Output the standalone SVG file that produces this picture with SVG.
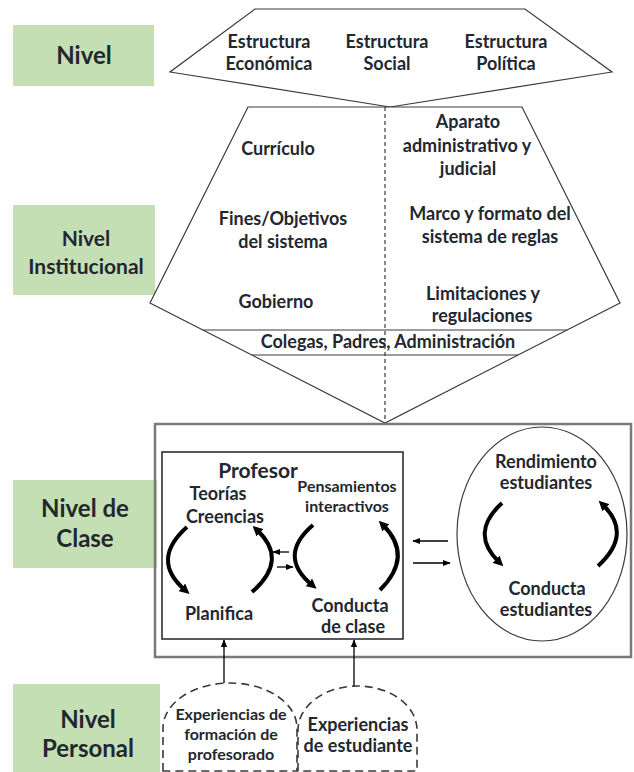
<svg xmlns="http://www.w3.org/2000/svg" width="634" height="772" viewBox="0 0 634 772">
<defs>
<style>
text{font-family:"Lato","Liberation Sans",sans-serif;font-weight:bold;fill:#23272f;text-anchor:middle}
.lvl{fill:#c5dfb4}
.lt{font-size:21px}
.lb{font-size:24px}
.t18{font-size:18px}
.t16{font-size:16px}
.shape{fill:#fff;stroke:#3a3a3a;stroke-width:1.2}
.line{fill:none;stroke:#3a3a3a;stroke-width:1.2}
.dash{fill:none;stroke:#3a3a3a;stroke-width:1.2;stroke-dasharray:4 3}
.pdash{fill:#fff;stroke:#3a3a3a;stroke-width:1.6;stroke-dasharray:8 5}
.arc{fill:none;stroke:#000;stroke-width:4;marker-end:url(#ah)}
.arr{fill:none;stroke:#000;stroke-width:1.3;marker-end:url(#sa)}
</style>
<marker id="ah" viewBox="0 0 10 10" refX="4" refY="5" markerWidth="2.5" markerHeight="2.5" orient="auto"><path d="M0,0 L10,5 L0,10 z" fill="#000"/></marker>
<marker id="sa" viewBox="0 0 10 10" refX="9" refY="5" markerWidth="6" markerHeight="6" orient="auto"><path d="M0,1 L10,5 L0,9 z" fill="#000"/></marker>
</defs>

<g id="nivel">
<rect class="lvl" x="13" y="25" width="141" height="61"/>
<text class="lb" x="84" y="64">Nivel</text>
</g>
<g id="nivel-institucional">
<rect class="lvl" x="13" y="205" width="142" height="90"/>
<text class="lt" x="86" y="246">Nivel</text>
<text class="lt" x="86" y="274">Institucional</text>
</g>
<g id="nivel-clase">
<rect class="lvl" x="13" y="480" width="144" height="88"/>
<text class="lb" x="85" y="517">Nivel de</text>
<text class="lb" x="85" y="547">Clase</text>
</g>
<g id="nivel-personal">
<rect class="lvl" x="13" y="684" width="147" height="88"/>
<text class="lb" x="88" y="728">Nivel</text>
<text class="lb" x="88" y="757">Personal</text>
</g>

<g id="estructura">
<polygon class="shape" points="255,9 525,9 612,72 390,107 170,72"/>
<text class="t18" x="269" y="48">Estructura</text>
<text class="t18" x="269" y="70">Económica</text>
<text class="t18" x="387" y="48">Estructura</text>
<text class="t18" x="387" y="70">Social</text>
<text class="t18" x="506" y="48">Estructura</text>
<text class="t18" x="506" y="70">Política</text>
</g>

<g id="institucional">
<polygon class="shape" points="248,107 522,107 620,303 385,423 150,303"/>
<line class="line" x1="203" y1="330" x2="567" y2="330"/>
<line class="line" x1="252" y1="355" x2="518" y2="355"/>
<line class="dash" x1="385" y1="107" x2="385" y2="423"/>
<text class="t18" x="278" y="155">Currículo</text>
<text class="t18" x="283" y="225">Fines/Objetivos</text>
<text class="t18" x="283" y="248">del sistema</text>
<text class="t18" x="276" y="308">Gobierno</text>
<text class="t18" x="468" y="128">Aparato</text>
<text class="t18" x="467" y="152">administrativo y</text>
<text class="t18" x="468" y="175">judicial</text>
<text class="t18" x="490" y="220">Marco y formato del</text>
<text class="t18" x="490" y="243">sistema de reglas</text>
<text class="t18" x="483" y="300">Limitaciones y</text>
<text class="t18" x="482" y="322">regulaciones</text>
<text class="t18" x="388" y="348">Colegas, Padres, Administración</text>
</g>

<g id="clase">
<rect x="155" y="424" width="476" height="233" fill="none" stroke="#7a7a7a" stroke-width="2.5"/>
</g>

<g id="profesor">
<rect x="162" y="452" width="241" height="187" fill="#fff" stroke="#222" stroke-width="1.5"/>
<text x="258" y="478" style="font-size:21px">Profesor</text>
<text class="t18" x="218" y="500">Teorías</text>
<text class="t18" x="225" y="523">Creencias</text>
<text class="t16" x="347" y="492">Pensamientos</text>
<text class="t16" x="347" y="512">interactivos</text>
<text class="t18" x="219" y="620">Planifica</text>
<text class="t18" x="350" y="612">Conducta</text>
<text class="t18" x="353" y="633">de clase</text>
</g>

<g id="estudiantes">
<ellipse cx="542" cy="534" rx="85" ry="107" fill="#fff" stroke="#3a3a3a" stroke-width="1.2"/>
<text class="t18" x="546" y="468">Rendimiento</text>
<text class="t18" x="546" y="489">estudiantes</text>
<text class="t18" x="547" y="595">Conducta</text>
<text class="t18" x="546" y="616">estudiantes</text>
</g>

<g id="exp-formacion">
<path class="pdash" d="M163,771 L163,728 A67,45 0 0 1 297,728 L297,771 Z"/>
<text class="t16" x="231" y="720">Experiencias de</text>
<text class="t16" x="231" y="740">formación de</text>
<text class="t16" x="231" y="760">profesorado</text>
</g>
<g id="exp-estudiante">
<path class="pdash" d="M298,771 L298,730 A59.5,44 0 0 1 417,730 L417,771 Z"/>
<text class="t18" x="358" y="731">Experiencias</text>
<text class="t18" x="358" y="752">de estudiante</text>
</g>

<g id="connectors">
<path class="arc" d="M187,527 Q150,560 185,590"/>
<path class="arc" d="M252,592 Q289,560 257,530"/>
<path class="arc" d="M313,525 Q277,556 312,585"/>
<path class="arc" d="M380,590 Q414,556 383,525"/>
<path class="arc" d="M502,503 Q469,533 499,562"/>
<path class="arc" d="M598,566 Q633,534 603,505"/>
<line class="arr" x1="289" y1="552" x2="273" y2="552"/>
<line class="arr" x1="277" y1="567" x2="293" y2="567"/>
<line class="arr" x1="448" y1="541" x2="413" y2="541"/>
<line class="arr" x1="413" y1="563" x2="450" y2="563"/>
<line class="arr" x1="224" y1="683" x2="224" y2="640"/>
<line class="arr" x1="354" y1="686" x2="354" y2="640"/>
</g>
</svg>
